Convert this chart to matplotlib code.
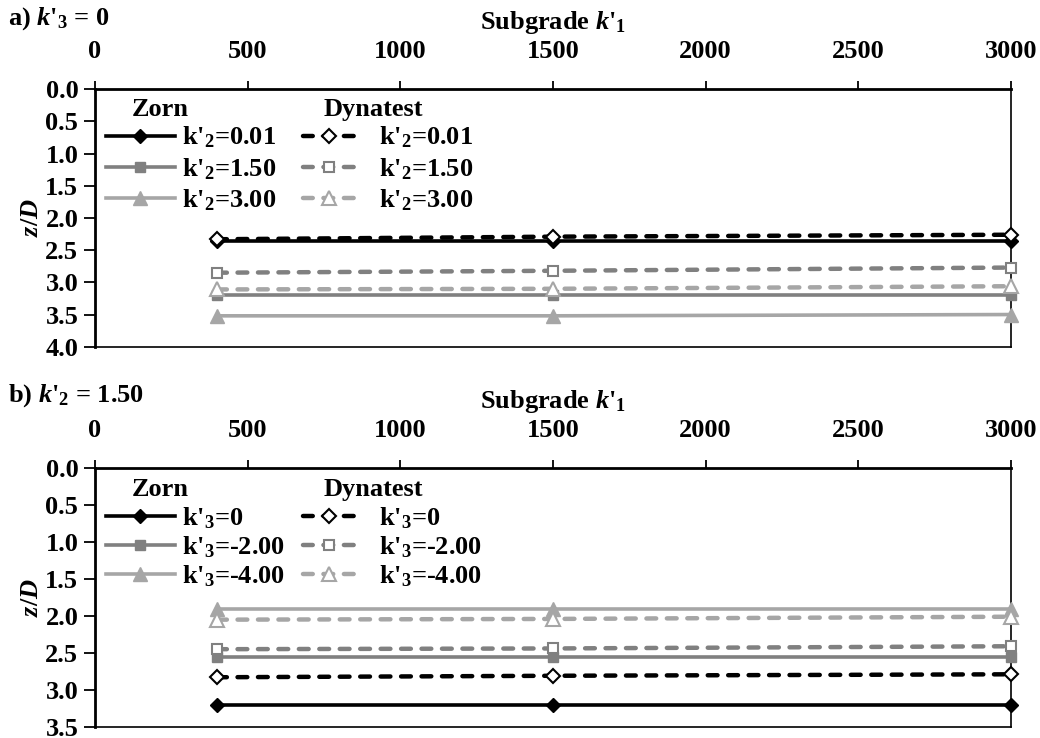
import matplotlib
matplotlib.use('Agg')
import matplotlib.pyplot as plt

plt.rcParams['font.family'] = ['Liberation Serif', 'DejaVu Serif']
plt.rcParams['font.weight'] = 'bold'
plt.rcParams['mathtext.fontset'] = 'custom'
plt.rcParams['mathtext.rm'] = 'Liberation Serif:bold'
plt.rcParams['mathtext.it'] = 'Liberation Serif:italic:bold'
plt.rcParams['mathtext.bf'] = 'Liberation Serif:bold'

# subgrade k'1 values
k1 = [400, 1500, 3000]

# panel a) k'3 = 0, varying k'2
a_labels = ["0.01", "1.50", "3.00"]
a_zorn = [[2.36, 2.36, 2.36],
          [3.19, 3.19, 3.19],
          [3.52, 3.52, 3.50]]
a_dyna = [[2.33, 2.29, 2.26],
          [2.85, 2.82, 2.77],
          [3.11, 3.10, 3.06]]

# panel b) k'2 = 1.50, varying k'3
b_labels = ["0", "-2.00", "-4.00"]
b_zorn = [[3.20, 3.20, 3.20],
          [2.56, 2.56, 2.56],
          [1.90, 1.90, 1.90]]
b_dyna = [[2.83, 2.81, 2.79],
          [2.45, 2.44, 2.41],
          [2.05, 2.04, 2.01]]

colors = ['#000000', '#808080', '#a6a6a6']
markers = ['D', 's', '^']
msizes = [7.5, 7, 9.5]
FS = 19

fig = plt.figure(figsize=(10.4, 7.38), dpi=100)
ax1 = fig.add_axes([0.0913, 0.5302, 0.8808, 0.3488])
ax2 = fig.add_axes([0.0913, 0.0153, 0.8808, 0.3501])


def draw(ax, zorn, dyna, labels, sub, ymax, rowsp, top):
    hz, hd = [], []
    for i in range(3):
        l, = ax.plot(k1, zorn[i], color=colors[i], lw=2.6, marker=markers[i],
                     ms=msizes[i], mfc=colors[i], mec=colors[i], zorder=3,
                     clip_on=False)
        hz.append(l)
    for i in range(3):
        l, = ax.plot(k1, dyna[i], color=colors[i], lw=3.2, ls=(0, (2.2, 2.4)),
                     dash_capstyle='round', marker=markers[i], ms=msizes[i],
                     mfc='white', mec=colors[i], mew=1.5, zorder=4,
                     clip_on=False)
        hd.append(l)
    lab = [r"k'${}_{\mathbf{%s}}$=%s" % (sub, v) for v in labels]
    leg1 = ax.legend(hz, lab, loc='upper left', bbox_to_anchor=(0.012, top),
                     frameon=False, fontsize=FS, handlelength=2.6,
                     handletextpad=0.3, labelspacing=rowsp, borderpad=0,
                     borderaxespad=0)
    ax.add_artist(leg1)
    ax.legend(hd, lab, loc='upper left', bbox_to_anchor=(0.227, top),
              frameon=False, fontsize=FS, handlelength=2.0,
              handletextpad=0.9, labelspacing=rowsp, borderpad=0,
              borderaxespad=0)
    ax.text(0.04, 0.92, 'Zorn', transform=ax.transAxes, fontsize=FS,
            fontweight='bold', va='center')
    ax.text(0.25, 0.92, 'Dynatest', transform=ax.transAxes, fontsize=FS,
            fontweight='bold', va='center')

    ax.set_xlim(0, 3000)
    ax.set_ylim(ymax, 0)
    ax.set_xticks(range(0, 3001, 500))
    ax.set_yticks([x * 0.5 for x in range(int(ymax * 2) + 1)])
    ax.set_yticklabels(['%.1f' % (x * 0.5) for x in range(int(ymax * 2) + 1)])
    ax.xaxis.tick_top()
    ax.xaxis.set_label_position('top')
    ax.tick_params(axis='x', direction='out', length=6, width=1.3,
                   labelsize=FS, pad=13)
    ax.tick_params(axis='y', direction='out', length=8, width=1.3,
                   labelsize=FS, pad=4)
    ax.spines['left'].set_linewidth(2)
    ax.spines['top'].set_linewidth(2)
    ax.spines['right'].set_linewidth(1.2)
    ax.spines['bottom'].set_linewidth(1.2)
    ax.set_xlabel(r"Subgrade $\mathit{k}$'${}_{\mathbf{1}}$", fontsize=FS,
                  fontweight='bold', labelpad=8)
    ax.set_ylabel(r'$\mathit{z/D}$', fontsize=FS, labelpad=2)


draw(ax1, a_zorn, a_dyna, a_labels, '2', 4.0, 0.22, 0.862)
draw(ax2, b_zorn, b_dyna, b_labels, '3', 3.5, 0.13, 0.856)

fig.text(0.008, 0.975, r"a) $\mathit{k}$'${}_{\mathbf{3}}$ = 0", fontsize=FS,
         fontweight='bold', va='center')
fig.text(0.008, 0.464, r"b) $\mathit{k}$'${}_{\mathbf{2}}$ = 1.50", fontsize=FS,
         fontweight='bold', va='center')

fig.savefig('out.png', dpi=100)
